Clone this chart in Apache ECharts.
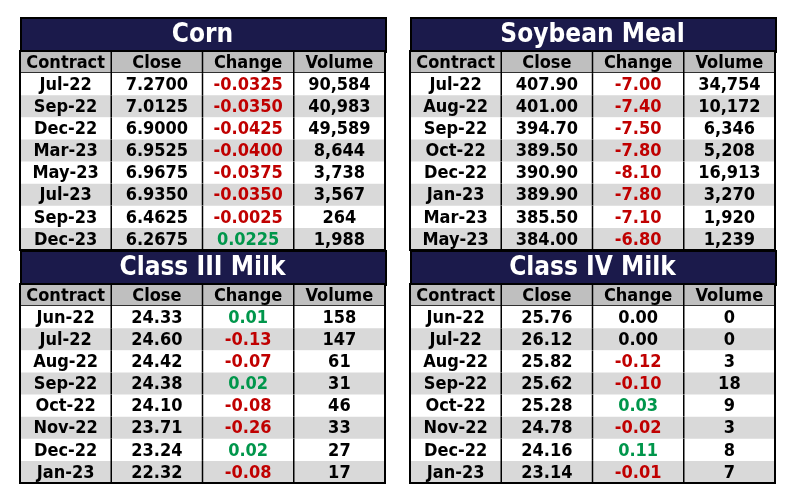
<!DOCTYPE html>
<html>
<head>
<meta charset="utf-8">
<script src="https://cdn.jsdelivr.net/npm/echarts@6/dist/echarts.min.js"></script>
<style>
  html, body {margin: 0; background: #fff;}
  #chart {width: 797px; height: 501px;}
</style>
</head>
<body>
<div id="chart"></div>
<script>
const columns = ['Contract', 'Close', 'Change', 'Volume']

const cornContracts = ['Jul-22', 'Sep-22', 'Dec-22', 'Mar-23', 'May-23', 'Jul-23', 'Sep-23', 'Dec-23']
const cornClose = ['7.2700', '7.0125', '6.9000', '6.9525', '6.9675', '6.9350', '6.4625', '6.2675']
const cornChange = ['-0.0325', '-0.0350', '-0.0425', '-0.0400', '-0.0375', '-0.0350', '-0.0025', '0.0225']
const cornVolume = ['90,584', '40,983', '49,589', '8,644', '3,738', '3,567', '264', '1,988']

const mealContracts = ['Jul-22', 'Aug-22', 'Sep-22', 'Oct-22', 'Dec-22', 'Jan-23', 'Mar-23', 'May-23']
const mealClose = ['407.90', '401.00', '394.70', '389.50', '390.90', '389.90', '385.50', '384.00']
const mealChange = ['-7.00', '-7.40', '-7.50', '-7.80', '-8.10', '-7.80', '-7.10', '-6.80']
const mealVolume = ['34,754', '10,172', '6,346', '5,208', '16,913', '3,270', '1,920', '1,239']

const milk3Contracts = ['Jun-22', 'Jul-22', 'Aug-22', 'Sep-22', 'Oct-22', 'Nov-22', 'Dec-22', 'Jan-23']
const milk3Close = ['24.33', '24.60', '24.42', '24.38', '24.10', '23.71', '23.24', '22.32']
const milk3Change = ['0.01', '-0.13', '-0.07', '0.02', '-0.08', '-0.26', '0.02', '-0.08']
const milk3Volume = ['158', '147', '61', '31', '46', '33', '27', '17']

const milk4Contracts = ['Jun-22', 'Jul-22', 'Aug-22', 'Sep-22', 'Oct-22', 'Nov-22', 'Dec-22', 'Jan-23']
const milk4Close = ['25.76', '26.12', '25.82', '25.62', '25.28', '24.78', '24.16', '23.14']
const milk4Change = ['0.00', '0.00', '-0.12', '-0.10', '0.03', '-0.02', '0.11', '-0.01']
const milk4Volume = ['0', '0', '3', '18', '9', '3', '8', '7']

const tables = [
  {title: 'Corn', contracts: cornContracts, close: cornClose, change: cornChange, volume: cornVolume, left: 20, top: 17},
  {title: 'Soybean Meal', contracts: mealContracts, close: mealClose, change: mealChange, volume: mealVolume, left: 410, top: 17},
  {title: 'Class III Milk', contracts: milk3Contracts, close: milk3Close, change: milk3Change, volume: milk3Volume, left: 20, top: 250},
  {title: 'Class IV Milk', contracts: milk4Contracts, close: milk4Close, change: milk4Change, volume: milk4Volume, left: 410, top: 250}
]

const FONT = 'Liberation Sans Narrow, DejaVu Sans Condensed, sans-serif'
const NAVY = '#1b1a4b'
const W = 365, TITLE_H = 34, BODY_H = 199
const rowNames = ['header', 0, 1, 2, 3, 4, 5, 6, 7].map(String)

const changeColor = v => {
  const n = parseFloat(v)
  return n < 0 ? '#c00000' : n > 0 ? '#00964b' : '#000'
}

const buildCells = t => {
  const cells = columns.map((c, i) => [i, 0, c, '#000'])
  t.contracts.forEach((c, r) => {
    cells.push([0, r + 1, c, '#000'])
    cells.push([1, r + 1, t.close[r], '#000'])
    cells.push([2, r + 1, t.change[r], changeColor(t.change[r])])
    cells.push([3, r + 1, t.volume[r], '#000'])
  })
  return cells
}

const allCells = tables.map(buildCells)

const renderCell = (params, api) => {
  const cell = allCells[params.seriesIndex][params.dataIndex]
  const col = cell[0], row = cell[1]
  const center = api.coord([col, row])
  const size = api.size([1, 1])
  const x = center[0] - size[0] / 2, y = center[1] - size[1] / 2
  const fill = row === 0 ? '#bfbfbf' : (row % 2 === 0 ? '#d9d9d9' : '#fff')
  const children = [{
    type: 'rect',
    shape: {x, y, width: size[0] + 0.5, height: size[1] + 0.5},
    style: {fill}
  }]
  if (col > 0) {
    children.push({type: 'line', shape: {x1: x, y1: y, x2: x, y2: y + size[1]},
      style: {stroke: '#000', lineWidth: 1.5}})
  }
  if (row === 0) {
    children.push({type: 'line', shape: {x1: x, y1: y + size[1], x2: x + size[0], y2: y + size[1]},
      style: {stroke: '#000', lineWidth: 1.5}})
  }
  children.push({
    type: 'text',
    style: {
      text: cell[2], x: center[0], y: center[1] + 1,
      align: 'center', verticalAlign: 'middle',
      fill: cell[3], fontFamily: FONT, fontWeight: 'bold', fontSize: 18
    }
  })
  return {type: 'group', children}
}

const chart = echarts.init(document.getElementById('chart'))

const option = {
  animation: false,
  backgroundColor: '#fff',
  grid: tables.map(t => ({
    left: t.left, top: t.top + TITLE_H, width: W, height: BODY_H,
    show: true, borderColor: '#000', borderWidth: 2, backgroundColor: 'transparent', z: 3
  })),
  xAxis: tables.map((t, i) => ({
    type: 'category', gridIndex: i, data: columns, show: false
  })),
  yAxis: tables.map((t, i) => ({
    type: 'category', gridIndex: i, data: rowNames, inverse: true, show: false
  })),
  series: tables.map((t, i) => ({
    type: 'custom', xAxisIndex: i, yAxisIndex: i,
    renderItem: renderCell, data: allCells[i].map(c => [c[0], c[1]]), silent: true, z: 2
  })),
  graphic: tables.flatMap(t => [
    {type: 'rect', left: t.left, top: t.top,
      shape: {width: W, height: TITLE_H},
      style: {fill: NAVY, stroke: '#000', lineWidth: 2}},
    {type: 'text', x: t.left + W / 2, y: t.top + TITLE_H / 2 + 1,
      style: {text: t.title, align: 'center', verticalAlign: 'middle',
        fill: '#fff', fontFamily: FONT, fontWeight: 'bold', fontSize: 26}}
  ])
}

chart.setOption(option)
</script>
</body>
</html>
